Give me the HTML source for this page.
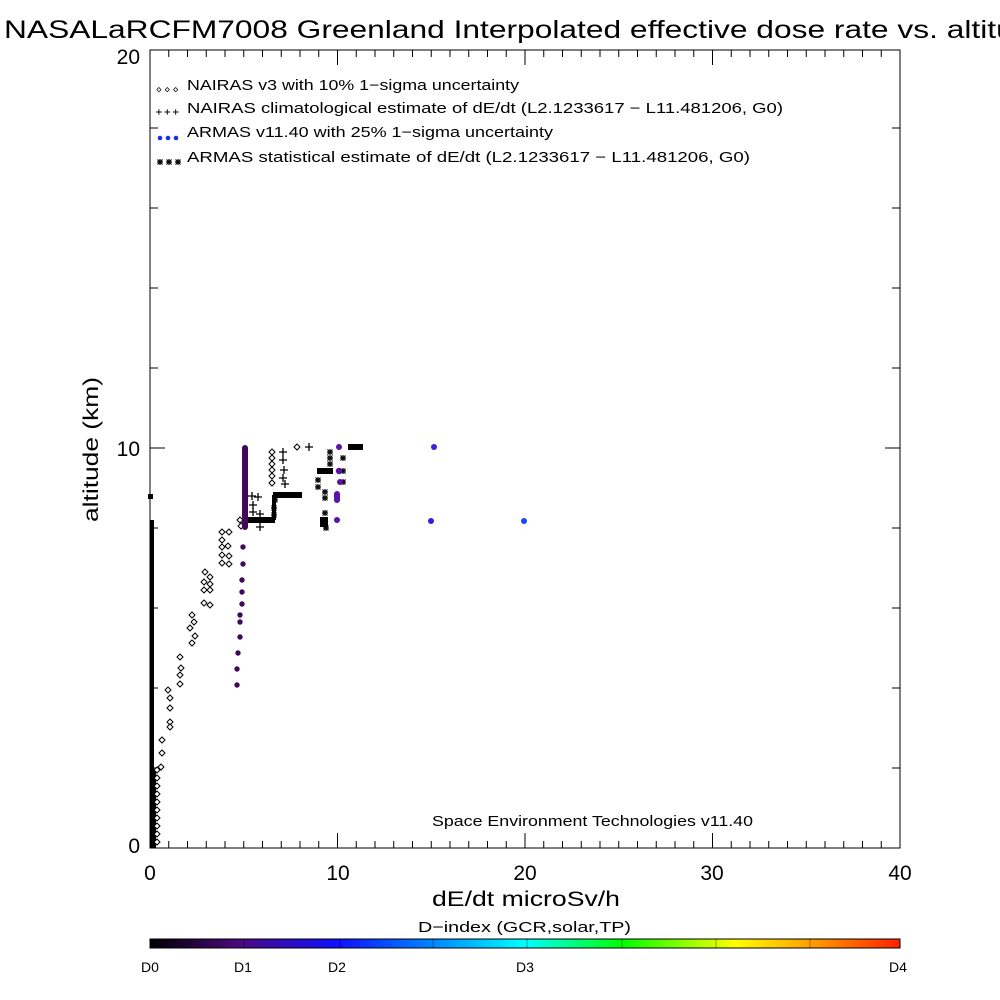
<!DOCTYPE html>
<html><head><meta charset="utf-8"><style>
html,body{margin:0;padding:0;background:#fff;}
svg{display:block;}
text{font-family:"Liberation Sans",sans-serif;fill:#000;}
</style></head><body>
<svg width="1000" height="1000" viewBox="0 0 1000 1000" xmlns="http://www.w3.org/2000/svg">
<defs>
<linearGradient id="cb" x1="0" x2="1" y1="0" y2="0">
<stop offset="0" stop-color="#000000"/>
<stop offset="0.12" stop-color="#4a0a80"/>
<stop offset="0.25" stop-color="#1010ff"/>
<stop offset="0.37" stop-color="#0080ff"/>
<stop offset="0.5" stop-color="#00ffff"/>
<stop offset="0.63" stop-color="#00ff00"/>
<stop offset="0.78" stop-color="#ffff00"/>
<stop offset="0.88" stop-color="#ffa000"/>
<stop offset="1" stop-color="#ff2000"/>
</linearGradient>
<g id="d"><path d="M0,-3 L3,0 L0,3 L-3,0 Z" fill="#fff" stroke="#000" stroke-width="1"/></g>
<g id="p"><path d="M-4,0 H4 M0,-4 V4" stroke="#000" stroke-width="1.3"/></g>
<g id="s"><path d="M-3,0 H3 M0,-3 V3 M-2.5,-2.5 L2.5,2.5 M-2.5,2.5 L2.5,-2.5" stroke="#000" stroke-width="1.2"/></g>
</defs>
<text x="4" y="38" font-size="25" textLength="1045" lengthAdjust="spacingAndGlyphs">NASALaRCFM7008  Greenland Interpolated effective dose rate vs. altitude</text>
<!-- axes -->
<rect x="150" y="50" width="750" height="798" fill="none" stroke="#000" stroke-width="1"/>
<g stroke="#000" stroke-width="1">
<path d="M168.75,848v-7M187.5,848v-7M206.25,848v-7M225,848v-7M243.75,848v-7M262.5,848v-7M281.25,848v-7M300,848v-7M318.75,848v-7M337.5,848v-15M356.25,848v-7M375,848v-7M393.75,848v-7M412.5,848v-7M431.25,848v-7M450,848v-7M468.75,848v-7M487.5,848v-7M506.25,848v-7M525,848v-15M543.75,848v-7M562.5,848v-7M581.25,848v-7M600,848v-7M618.75,848v-7M637.5,848v-7M656.25,848v-7M675,848v-7M693.75,848v-7M712.5,848v-15M731.25,848v-7M750,848v-7M768.75,848v-7M787.5,848v-7M806.25,848v-7M825,848v-7M843.75,848v-7M862.5,848v-7M881.25,848v-7"/>
<path d="M168.75,50v7M187.5,50v7M206.25,50v7M225,50v7M243.75,50v7M262.5,50v7M281.25,50v7M300,50v7M318.75,50v7M337.5,50v15M356.25,50v7M375,50v7M393.75,50v7M412.5,50v7M431.25,50v7M450,50v7M468.75,50v7M487.5,50v7M506.25,50v7M525,50v15M543.75,50v7M562.5,50v7M581.25,50v7M600,50v7M618.75,50v7M637.5,50v7M656.25,50v7M675,50v7M693.75,50v7M712.5,50v15M731.25,50v7M750,50v7M768.75,50v7M787.5,50v7M806.25,50v7M825,50v7M843.75,50v7M862.5,50v7M881.25,50v7"/>
<path d="M150,768h8M150,688h8M150,608h8M150,528h8M150,448h15M150,368h8M150,288h8M150,208h8M150,128h8"/>
<path d="M900,768h-8M900,688h-8M900,608h-8M900,528h-8M900,448h-15M900,368h-8M900,288h-8M900,208h-8M900,128h-8"/>
</g>
<text x="140" y="64" font-size="21" text-anchor="end">20</text>
<text x="140" y="456" font-size="21" text-anchor="end">10</text>
<text x="140" y="853" font-size="21" text-anchor="end">0</text>
<g font-size="21" text-anchor="middle">
<text x="150" y="880">0</text><text x="338" y="880">10</text><text x="525" y="880">20</text><text x="712" y="880">30</text><text x="900" y="880">40</text>
</g>
<text x="432" y="906" font-size="21" textLength="188" lengthAdjust="spacingAndGlyphs">dE/dt microSv/h</text>
<text transform="translate(98,522) rotate(-90)" font-size="21" textLength="145" lengthAdjust="spacingAndGlyphs">altitude (km)</text>
<!-- legend -->
<g font-size="14.5">
<text x="187" y="90" textLength="332" lengthAdjust="spacingAndGlyphs">NAIRAS v3 with 10% 1−sigma uncertainty</text>
<text x="187" y="113" textLength="596" lengthAdjust="spacingAndGlyphs">NAIRAS climatological estimate of dE/dt (L2.1233617 − L11.481206, G0)</text>
<text x="187" y="137" textLength="366" lengthAdjust="spacingAndGlyphs">ARMAS v11.40 with 25% 1−sigma uncertainty</text>
<text x="187" y="162" textLength="563" lengthAdjust="spacingAndGlyphs">ARMAS statistical estimate of dE/dt (L2.1233617 − L11.481206, G0)</text>
</g>
<g transform="scale(0.7)"><use href="#d" x="227" y="128"/><use href="#d" x="239" y="128"/><use href="#d" x="251" y="128"/></g>
<g transform="scale(0.7)"><use href="#p" x="227" y="160"/><use href="#p" x="239" y="160"/><use href="#p" x="251" y="160"/></g>
<g fill="#1a30e0"><circle cx="160" cy="138" r="2.3"/><circle cx="168" cy="138" r="2.3"/><circle cx="176" cy="138" r="2.3"/></g>
<g><use href="#s" x="160" y="162"/><use href="#s" x="169" y="162"/><use href="#s" x="178" y="162"/></g>
<text x="432" y="826" font-size="14.5" textLength="321" lengthAdjust="spacingAndGlyphs">Space Environment Technologies v11.40</text>
<!-- data: black left bar -->
<rect x="150" y="770" width="6" height="78" fill="#000"/>
<rect x="150" y="520" width="4" height="250" fill="#000"/>
<rect x="148" y="494" width="5" height="5" fill="#000"/>
<!-- diamonds -->
<g>
<use href="#d" x="157" y="770"/><use href="#d" x="157" y="778"/><use href="#d" x="157" y="786"/><use href="#d" x="157" y="794"/><use href="#d" x="157" y="802"/><use href="#d" x="157" y="810"/><use href="#d" x="157" y="818"/><use href="#d" x="157" y="826"/><use href="#d" x="157" y="834"/><use href="#d" x="157" y="842"/>
<use href="#d" x="161" y="767"/><use href="#d" x="162" y="753"/><use href="#d" x="162" y="740"/><use href="#d" x="170" y="722"/><use href="#d" x="170" y="727"/><use href="#d" x="170" y="708"/><use href="#d" x="170" y="698"/><use href="#d" x="168" y="690"/><use href="#d" x="180" y="684"/><use href="#d" x="180" y="675"/><use href="#d" x="181" y="668"/><use href="#d" x="180" y="657"/>
<use href="#d" x="192" y="615"/><use href="#d" x="194" y="622"/><use href="#d" x="190" y="628"/><use href="#d" x="195" y="636"/><use href="#d" x="192" y="643"/>
<use href="#d" x="205" y="572"/><use href="#d" x="210" y="577"/><use href="#d" x="204" y="582"/><use href="#d" x="210" y="584"/><use href="#d" x="204" y="590"/><use href="#d" x="210" y="590"/><use href="#d" x="204" y="603"/><use href="#d" x="210" y="605"/>
<use href="#d" x="222" y="532"/><use href="#d" x="229" y="532"/><use href="#d" x="222" y="540"/><use href="#d" x="222" y="547"/><use href="#d" x="228" y="546"/><use href="#d" x="222" y="555"/><use href="#d" x="229" y="556"/><use href="#d" x="222" y="563"/><use href="#d" x="229" y="564"/>
<use href="#d" x="240" y="520"/><use href="#d" x="241" y="526"/>
<use href="#d" x="272" y="452"/><use href="#d" x="272" y="458"/><use href="#d" x="272" y="464"/><use href="#d" x="272" y="470"/><use href="#d" x="272" y="476"/><use href="#d" x="272" y="483"/>
<use href="#d" x="297" y="447"/>
</g>
<!-- plus -->
<g>
<use href="#p" x="283" y="452"/><use href="#p" x="283" y="460"/><use href="#p" x="284" y="470"/><use href="#p" x="283" y="478"/><use href="#p" x="285" y="484"/>
<use href="#p" x="252" y="496"/><use href="#p" x="258" y="497"/><use href="#p" x="253" y="505"/><use href="#p" x="253" y="512"/><use href="#p" x="260" y="514"/><use href="#p" x="260" y="527"/><use href="#p" x="309" y="447"/>
</g>
<!-- stars -->
<g>
<use href="#s" x="330" y="452"/><use href="#s" x="330" y="458"/><use href="#s" x="330" y="464"/><use href="#s" x="343" y="458"/><use href="#s" x="343" y="471"/><use href="#s" x="343" y="482"/>
<use href="#s" x="318" y="480"/><use href="#s" x="318" y="487"/><use href="#s" x="325" y="492"/><use href="#s" x="325" y="498"/><use href="#s" x="325" y="513"/><use href="#s" x="326" y="528"/>
<use href="#s" x="275" y="500"/><use href="#s" x="274" y="508"/><use href="#s" x="274" y="515"/>
</g>
<!-- black bars -->
<g fill="#000">
<rect x="245" y="517" width="30" height="6"/>
<rect x="273" y="492" width="29" height="6"/>
<rect x="272" y="495" width="4" height="25"/>
<rect x="317" y="468" width="16" height="6"/>
<rect x="320" y="517" width="8" height="10"/>
<rect x="348" y="444" width="15" height="6"/>
<rect x="290" y="492" width="12" height="6"/>
</g>
<!-- purple circles -->
<g fill="#3f0a5a">
<rect x="242" y="445" width="6" height="85" rx="3"/>
<circle cx="243" cy="547" r="2.7"/><circle cx="243" cy="564" r="2.7"/><circle cx="242" cy="580" r="2.7"/><circle cx="242" cy="592" r="2.7"/><circle cx="242" cy="604" r="2.7"/><circle cx="240" cy="615" r="2.7"/><circle cx="240" cy="622" r="2.7"/><circle cx="240" cy="637" r="2.7"/><circle cx="238" cy="653" r="2.7"/><circle cx="237" cy="669" r="2.7"/><circle cx="237" cy="685" r="2.7"/>
</g>
<g fill="#5a12a8">
<circle cx="339" cy="447" r="3"/><circle cx="339" cy="471" r="3.2"/><circle cx="340" cy="482" r="3"/><rect x="334" y="491" width="6" height="12" rx="3"/><circle cx="337" cy="520" r="3"/>
</g>
<circle cx="434" cy="447" r="3" fill="#3a20e0"/>
<circle cx="431" cy="521" r="3" fill="#2a22e0"/>
<circle cx="524" cy="521" r="3" fill="#1a44ff"/>
<!-- colorbar -->
<text x="418" y="932" font-size="15" textLength="213" lengthAdjust="spacingAndGlyphs">D−index (GCR,solar,TP)</text>
<rect x="150" y="939" width="750" height="9" fill="url(#cb)" stroke="#000" stroke-width="1"/>
<g stroke="#000" stroke-width="0.6" opacity="0.6"><path d="M244,939v9M340,939v9M433,939v9M527,939v9M622,939v9M716,939v9M810,939v9"/></g>
<g font-size="14" text-anchor="middle">
<text x="150" y="972">D0</text><text x="243" y="972">D1</text><text x="337" y="972">D2</text><text x="525" y="972">D3</text><text x="898" y="972">D4</text>
</g>
</svg>
</body></html>
